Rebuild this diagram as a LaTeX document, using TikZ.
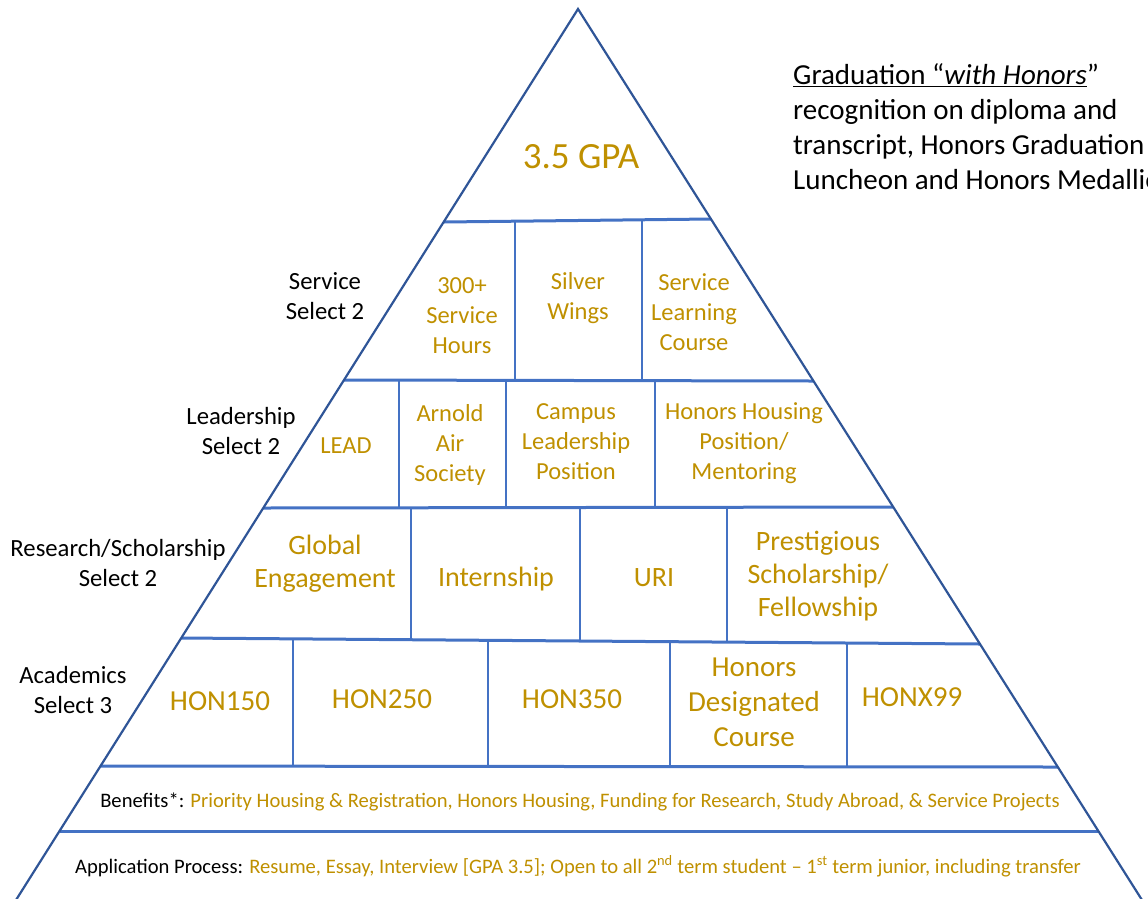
\documentclass[tikz,border=0pt]{standalone}
\usepackage{fontspec}
\setmainfont{Carlito}
\usetikzlibrary{calc}
\definecolor{gold}{RGB}{191,144,0}
\definecolor{edgeblue}{RGB}{47,85,151}
\definecolor{ruleblue}{RGB}{68,114,196}
\begin{document}
\begin{tikzpicture}[x=1pt,y=-1pt,
  sideline/.style={draw=edgeblue, line width=2.2pt, line join=miter},
  rowline/.style={draw=ruleblue, line width=3pt},
  divline/.style={draw=ruleblue, line width=1.2pt},
  item/.style={text=gold, align=center, inner sep=0pt},
  lab/.style={text=black, align=center, inner sep=0pt, font=\fontsize{24.7}{30}\selectfont},
  fA/.style={font=\fontsize{24.5}{30}\selectfont},
  fB/.style={font=\fontsize{28}{33}\selectfont},
  fC/.style={font=\fontsize{29}{35}\selectfont},
  fD/.style={font=\fontsize{20.6}{24}\selectfont},
  fE/.style={font=\fontsize{37}{42}\selectfont}
]
\useasboundingbox (0,0) rectangle (1148,898);
\clip (0,0) rectangle (1148,898);
\coordinate (A) at (578,9);
\coordinate (BL) at (16,900);
\coordinate (BR) at (1142,900);
% row lines
\coordinate (L1) at (443.7,222); \coordinate (R1) at (710.9,219);
\coordinate (L2) at (344.0,380); \coordinate (R2) at (813.5,381);
\coordinate (L3) at (263.3,508); \coordinate (R3) at (893.2,507);
\coordinate (L4) at (181.3,638); \coordinate (R4) at (980.0,644);
\coordinate (L5) at (100.5,766); \coordinate (R5) at (1057.8,767);
\coordinate (L6) at (59.5,831);  \coordinate (R6) at (1098.3,831);
\foreach \i in {1,...,6} {\draw[rowline] (L\i) -- (R\i);}
% dividers
\draw[divline] (515,221) -- (515,380);
\draw[divline] (642,220) -- (642,381);
\draw[divline] (399,380) -- (399,508);
\draw[divline] (506,380) -- (506,508);
\draw[divline] (655,381) -- (655,507);
\draw[divline] (411,508) -- (411,639);
\draw[divline] (580,508) -- (580,641);
\draw[divline] (727,507) -- (727,642);
\draw[divline] (293,639) -- (293,766);
\draw[divline] (488,640) -- (488,766);
\draw[divline] (670,641) -- (670,767);
\draw[divline] (847,642) -- (847,767);
% triangle
\draw[sideline] (BL) -- (A) -- (BR);
% texts
\node[item, fE] (gpa) at (581,157) {3.5 GPA};
\node[item, fA] (s1) at (462,316) {300+\\Service\\Hours};
\node[item, fA] (s2) at (578,298) {Silver\\Wings};
\node[item, fA] (s3) at (694,312) {Service\\Learning\\Course};
\node[item, fA] (l1) at (346,446) {LEAD};
\node[item, fA] (l2) at (450,445) {Arnold\\Air\\Society};
\node[item, fA] (l3) at (576,442) {Campus\\Leadership\\Position};
\node[item, fA] (l4) at (744,443) {Honors Housing\\Position/\\Mentoring};
\node[item, fB] (r1) at (325,564) {Global\\Engagement};
\node[item, fB] (r2) at (496,579) {Internship};
\node[item, fB] (r3) at (654,578) {URI};
\node[item, fB] (r4) at (818,576) {Prestigious\\Scholarship/\\Fellowship};
\node[item, fC] (a1) at (220,701) {HON150};
\node[item, fC] (a2) at (382,699) {HON250};
\node[item, fC] (a3) at (572,699) {HON350};
\node[item, fC] (a4) at (754,702) {Honors\\Designated\\Course};
\node[item, fC] (a5) at (912,697) {HONX99};
\node[item, fD] (ben) at (580,802) {\textcolor{black}{Benefits*:} Priority Housing \& Registration, Honors Housing, Funding for Research, Study Abroad, \& Service Projects};
\node[item, fD] (app) at (578,866) {\textcolor{black}{Application Process:} Resume, Essay, Interview [GPA 3.5]; Open to all 2\textsuperscript{nd} term student – 1\textsuperscript{st} term junior, including transfer};
% left labels
\node[lab] (labS) at (325,296) {Service\\Select 2};
\node[lab] (labL) at (241,431) {Leadership\\Select 2};
\node[lab] (labR) at (118,563) {Research/Scholarship\\Select 2};
\node[lab] (labA) at (73,690) {Academics\\Select 3};
% right text
\node[anchor=north west, align=left, inner sep=0pt, font=\fontsize{29}{35}\selectfont] (grad) at (793,63)
  {\underline{Graduation “\textit{with Honors}}”\\recognition on diploma and\\transcript, Honors Graduation\\Luncheon and Honors Medallion};
\end{tikzpicture}
\end{document}
